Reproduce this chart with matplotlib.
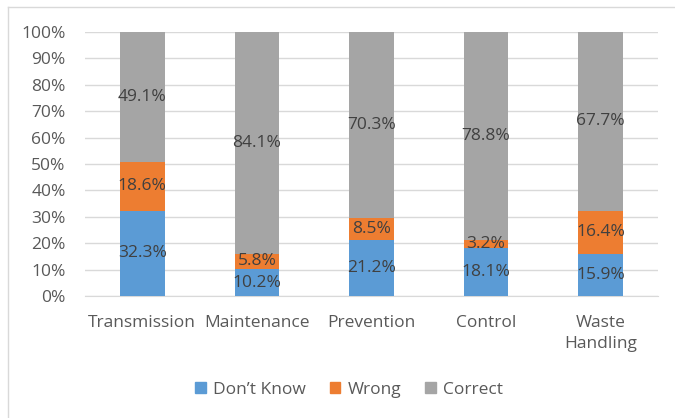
import matplotlib
matplotlib.use("Agg")
import matplotlib.pyplot as plt
from matplotlib.lines import Line2D
import numpy as np

categories = ["Transmission", "Maintenance", "Prevention", "Control", "Waste\nHandling"]
series_names = ["Don\u2019t Know", "Wrong", "Correct"]
dont_know = [32.3, 10.2, 21.2, 18.1, 15.9]
wrong = [18.6, 5.8, 8.5, 3.2, 16.4]
correct = [49.1, 84.1, 70.3, 78.8, 67.7]
y_ticks = [0, 10, 20, 30, 40, 50, 60, 70, 80, 90, 100]
colors = ["#5B9BD5", "#ED7D31", "#A5A5A5"]

plt.rcParams['font.family'] = ['Open Sans', 'DejaVu Sans']

W, H = 675, 418
fig = plt.figure(figsize=(W / 100, H / 100), dpi=100)
# plot area: x 85..658, y 32..296 (pixels from top)
ax = fig.add_axes([85 / W, 1 - 296 / H, (658 - 85) / W, (296 - 32) / H])

x = np.arange(len(categories))
series = [dont_know, wrong, correct]
totals = np.array(dont_know) + np.array(wrong) + np.array(correct)
bottom = np.zeros(len(categories))
for vals, col, name in zip(series, colors, series_names):
    v = np.array(vals)
    pct = v / totals * 100
    ax.bar(x, pct, width=0.39, bottom=bottom, color=col, label=name, zorder=3)
    for xi, b, p, lab in zip(x, bottom, pct, vals):
        ax.text(xi, b + p / 2, f"{lab:.1f}%", ha="center", va="center",
                fontsize=12.5, color="#404040", zorder=4)
    bottom = bottom + pct

ax.set_xlim(-0.5, len(categories) - 0.5)
ax.set_ylim(0, 100)
ax.set_yticks(y_ticks)
ax.set_yticklabels([f"{t}%" for t in y_ticks])
ax.set_xticks(x)
ax.set_xticklabels(categories, linespacing=1.35)
ax.tick_params(axis="both", length=0, labelsize=12.5, labelcolor="#595959")
ax.tick_params(axis="x", pad=14)
ax.tick_params(axis="y", pad=14)
ax.grid(axis="y", color="#D9D9D9", linewidth=1, zorder=0)
for s in ["top", "right", "left"]:
    ax.spines[s].set_visible(False)
ax.spines["bottom"].set_color("#D9D9D9")

handles = [plt.Rectangle((0, 0), 1, 1, color=c) for c in colors]
fig.legend(handles, series_names, loc="center", bbox_to_anchor=(349 / W, 1 - 390 / H),
           ncol=3, frameon=False, fontsize=12.5, labelcolor="#595959",
           handlelength=0.6, handleheight=0.6, handletextpad=0.4, columnspacing=1.4)

# chart border (top and left visible)
fig.add_artist(Line2D([8 / W, 8 / W], [0, 1 - 7 / H], transform=fig.transFigure, color="#D9D9D9", lw=1))
fig.add_artist(Line2D([8 / W, 1], [1 - 7 / H, 1 - 7 / H], transform=fig.transFigure, color="#D9D9D9", lw=1))

fig.savefig("out.png", dpi=100)
